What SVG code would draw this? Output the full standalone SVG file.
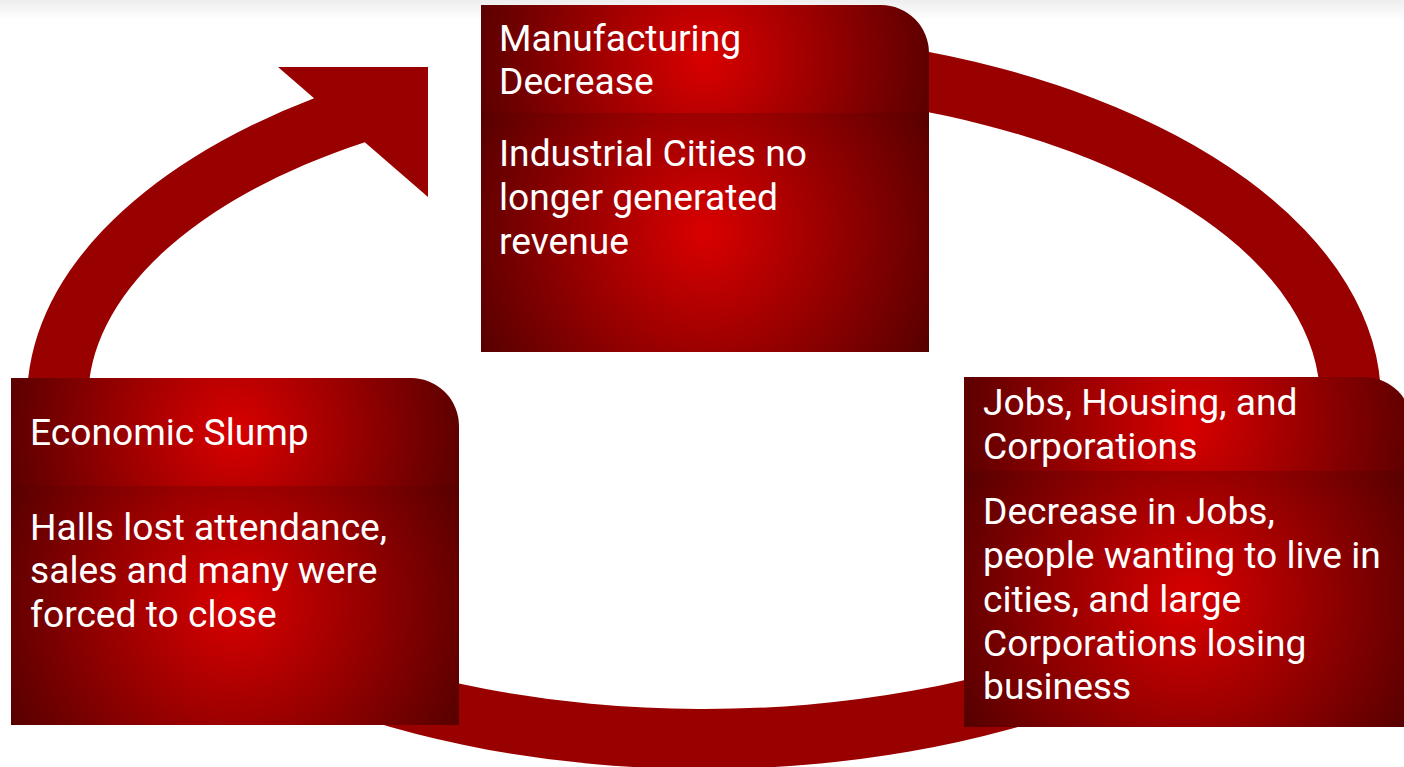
<svg xmlns="http://www.w3.org/2000/svg" width="1404" height="767" viewBox="0 0 1404 767">
<style>
.t{font-family:Roboto,"Liberation Sans",sans-serif;font-size:37.2px;fill:#ffffff}
.ring{fill:#990000}
</style>
<defs>
<linearGradient id="topfade" x1="0" y1="0" x2="0" y2="1">
<stop offset="0" stop-color="#eeeeee"/>
<stop offset="1" stop-color="#ffffff"/>
</linearGradient>
<radialGradient id="gTH" gradientUnits="userSpaceOnUse" cx="705" cy="59" r="240"><stop offset="0" stop-color="#d90000"/><stop offset="1" stop-color="#560000"/></radialGradient>
<radialGradient id="gTB" gradientUnits="userSpaceOnUse" cx="705" cy="232" r="255"><stop offset="0" stop-color="#d90000"/><stop offset="1" stop-color="#560000"/></radialGradient>
<radialGradient id="gLH" gradientUnits="userSpaceOnUse" cx="235" cy="432" r="240"><stop offset="0" stop-color="#d90000"/><stop offset="1" stop-color="#560000"/></radialGradient>
<radialGradient id="gLB" gradientUnits="userSpaceOnUse" cx="235" cy="605" r="255"><stop offset="0" stop-color="#d90000"/><stop offset="1" stop-color="#560000"/></radialGradient>
<radialGradient id="gRH" gradientUnits="userSpaceOnUse" cx="1188" cy="424" r="240"><stop offset="0" stop-color="#d90000"/><stop offset="1" stop-color="#560000"/></radialGradient>
<radialGradient id="gRB" gradientUnits="userSpaceOnUse" cx="1188" cy="599" r="255"><stop offset="0" stop-color="#d90000"/><stop offset="1" stop-color="#560000"/></radialGradient>
</defs>
<rect x="0" y="0" width="1404" height="20" fill="url(#topfade)"/>
<g id="connectors">
<path class="ring" d="M27 400 A677 369 0 0 1 314.1 98.3 L278 67 L428 67 L428 197 L364.8 142.2 A616 309 0 0 0 88 400 Z"/>
<path class="ring" d="M900 46.8 A677 369 0 0 1 1381 400 L1320 400 A616 309 0 0 0 900 107.1 Z"/>
<path class="ring" d="M1100 699.3 A677 369 0 0 1 300 696.1 L300 633.3 A616 309 0 0 0 1100 636.7 Z"/>
</g>
<g id="node-manufacturing">
<rect x="481" y="113" width="448" height="239" fill="url(#gTB)"/>
<path d="M481 5 H881 A48 48 0 0 1 929 53 V113 H481 Z" fill="url(#gTH)"/>
<text class="t" x="499" y="51">Manufacturing</text>
<text class="t" x="499" y="94">Decrease</text>
<text class="t" x="499" y="166">Industrial Cities no</text>
<text class="t" x="499" y="210">longer generated</text>
<text class="t" x="499" y="254">revenue</text>
</g>
<g id="node-jobs">
<rect x="964" y="471" width="448" height="256" fill="url(#gRB)"/>
<path d="M964 377 H1364 A48 48 0 0 1 1412 425 V471 H964 Z" fill="url(#gRH)"/>
<text class="t" x="983" y="415">Jobs, Housing, and</text>
<text class="t" x="983" y="459">Corporations</text>
<text class="t" x="983" y="524">Decrease in Jobs,</text>
<text class="t" x="983" y="568">people wanting to live in</text>
<text class="t" x="983" y="612">cities, and large</text>
<text class="t" x="983" y="656">Corporations losing</text>
<text class="t" x="983" y="699">business</text>
</g>
<g id="node-slump">
<rect x="11" y="486" width="448" height="239" fill="url(#gLB)"/>
<path d="M11 378 H411 A48 48 0 0 1 459 426 V486 H11 Z" fill="url(#gLH)"/>
<text class="t" x="30" y="445">Economic Slump</text>
<text class="t" x="30" y="540">Halls lost attendance,</text>
<text class="t" x="30" y="583">sales and many were</text>
<text class="t" x="30" y="627">forced to close</text>
</g>
</svg>
